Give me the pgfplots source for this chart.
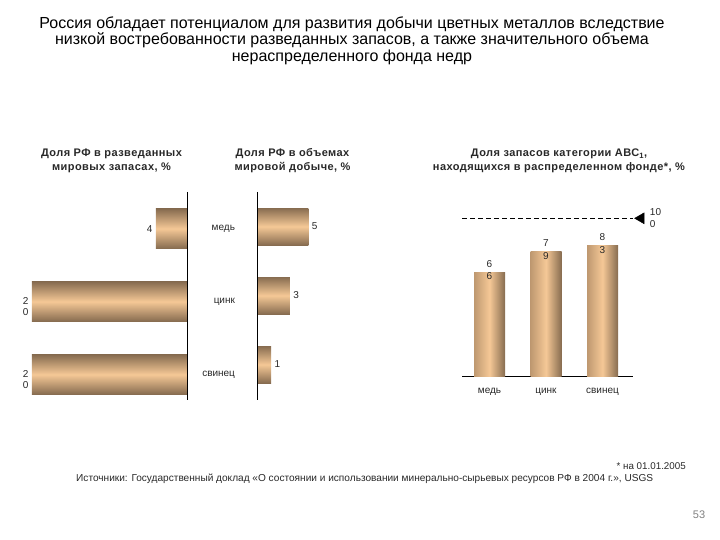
\documentclass[border=0pt]{standalone}
\usepackage{fontspec}
\setmainfont{Liberation Sans}
\usepackage{pgfplots}
\pgfplotsset{compat=1.18}
\definecolor{bardark}{RGB}{135,108,80}
\definecolor{barmid}{RGB}{190,152,112}
\definecolor{barlight}{RGB}{245,200,150}
\definecolor{txt}{RGB}{40,40,40}
\newcommand\stk[2]{#1\\#2}
\newcommand\subfont{\bfseries\fontsize{11}{14}\selectfont\addfontfeatures{LetterSpace=4}}
\pgfplotsset{
  hbar/.style={xbar, bar shift=0pt, draw=none, top color=bardark, bottom color=bardark, middle color=barlight,
    nodes near coords, point meta=explicit symbolic},
  vbar/.style={ybar, bar shift=0pt, bar width=31pt, draw=none, left color=barmid, right color=bardark, middle color=barlight,
    nodes near coords, point meta=explicit symbolic,
    every node near coord/.append style={anchor=center, yshift=2pt, align=center, font=\fontsize{10}{12.7}\selectfont, text=txt}},
}
\begin{document}
\begin{tikzpicture}[x=1pt,y=1pt]
\path[use as bounding box] (0pt,0pt) rectangle (720pt,540pt);
% main title
\node[align=center, font=\fontsize{16}{16.5}\selectfont, text=black] at (352pt,499.5pt)
 {Россия обладает потенциалом для развития добычи цветных металлов вследствие\\низкой востребованности разведанных запасов, а также значительного объема\\нераспределенного фонда недр};
% subtitles
\node[align=center, font=\subfont, text=txt] at (111.5pt,379pt)
 {Доля РФ в разведанных\\мировых запасах, \%};
\node[align=center, font=\subfont, text=txt] at (292.5pt,379pt)
 {Доля РФ в объемах\\мировой добыче, \%};
\node[align=center, font=\subfont, text=txt] at (559pt,379pt)
 {Доля запасов категории АВС\textsubscript{1},\\находящихся в распределенном фонде*, \%};

% left chart: share of world reserves
\begin{axis}[name=left, at={(32pt,140pt)}, anchor=south west, scale only axis,
  width=155pt, height=208pt, x dir=reverse, y dir=reverse,
  xmin=0, xmax=20, ymin=-0.503, ymax=2.35, axis lines=none, clip=false,
  every node near coord/.append style={anchor=east, align=center, font=\fontsize{10}{11.5}\selectfont, text=txt}]
\addplot[hbar, bar width=39.5pt] coordinates {(4,0) [4]};
\addplot[hbar, bar width=39.5pt, every node near coord/.append style={yshift=-5pt}] coordinates {(20,1) [{\stk{2}{0}}]};
\addplot[hbar, bar width=39.5pt, every node near coord/.append style={yshift=-5pt}] coordinates {(20,2) [{\stk{2}{0}}]};
\draw[black, line width=0.8pt] (axis cs:0,-0.503) -- (axis cs:0,2.35);
\node[anchor=east, font=\fontsize{10}{11}\selectfont, text=txt] at (axis cs:0,0) [xshift=51.5pt] {медь};
\node[anchor=east, font=\fontsize{10}{11}\selectfont, text=txt] at (axis cs:0,1) [xshift=51.5pt] {цинк};
\node[anchor=east, font=\fontsize{10}{11}\selectfont, text=txt] at (axis cs:0,2) [xshift=51.5pt] {свинец};
\end{axis}

% middle chart: share of world production
\begin{axis}[name=mid, at={(257.3pt,140pt)}, anchor=south west, scale only axis,
  width=102pt, height=208pt, y dir=reverse,
  xmin=0, xmax=10, ymin=-0.5, ymax=2.514, axis lines=none, clip=false,
  every node near coord/.append style={anchor=west, align=center, font=\fontsize{10}{11}\selectfont, text=txt}]
\addplot[hbar, bar width=37pt] coordinates {(5,0) [5]};
\addplot[hbar, bar width=37pt] coordinates {(3.2,1) [3]};
\addplot[hbar, bar width=37pt] coordinates {(1.35,2) [1]};
\draw[black, line width=0.8pt] (axis cs:0,-0.5) -- (axis cs:0,2.514);
\end{axis}

% right chart: share in distributed fund
\begin{axis}[name=right, at={(462pt,163.3pt)}, anchor=south west, scale only axis,
  width=171pt, height=158.4pt,
  xmin=-0.487, xmax=2.54, ymin=0, ymax=100,
  axis x line*=bottom, axis y line=none, clip=false,
  x axis line style={black, line width=0.8pt},
  xtick={0,1,2}, xticklabels={медь,цинк,свинец}, major tick length=0pt, ytick=\empty,
  xticklabel style={font=\fontsize{10}{11}\selectfont, text=txt, yshift=-8pt}]
\addplot[vbar] coordinates {(0,66) [{\stk{6}{6}}]};
\addplot[vbar] coordinates {(1,79) [{\stk{7}{9}}]};
\addplot[vbar] coordinates {(2,83) [{\stk{8}{3}}]};
\addplot[black, line width=0.9pt, dash pattern=on 5pt off 3pt] coordinates {(-0.487,100) (2.54,100)};
\addplot[only marks, mark=triangle*, mark size=6.3pt, mark options={rotate=90, fill=black, draw=black},
  nodes near coords, point meta=explicit symbolic,
  every node near coord/.append style={anchor=west, xshift=5.5pt, align=left, font=\fontsize{10}{12.3}\selectfont, text=txt}]
  coordinates {(2.68,100) [{\stk{10}{0}}]};
\end{axis}

% footer
\node[anchor=east, inner sep=0pt, font=\fontsize{9.8}{11}\selectfont, text=txt] at (686pt,74pt) {* на 01.01.2005};
\node[anchor=west, inner sep=0pt, font=\fontsize{10.1}{11}\selectfont, text=txt] at (76pt,61pt)
 {Источники: Государственный доклад «О состоянии и использовании минерально-сырьевых ресурсов РФ в 2004 г.», USGS};
\node[font=\fontsize{11}{13}\selectfont, text=gray] at (699pt,25pt) {53};
\end{tikzpicture}
\end{document}
